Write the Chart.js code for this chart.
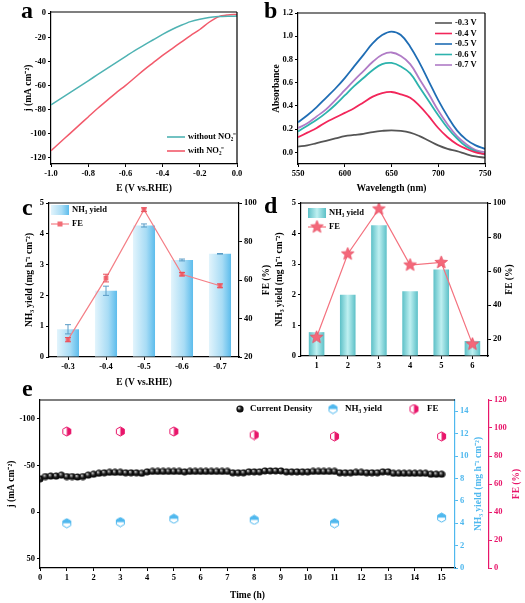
<!DOCTYPE html>
<html>
<head>
<meta charset="utf-8">
<script src="https://cdn.jsdelivr.net/npm/chart.js@4.4.0/dist/chart.umd.min.js"></script>
<style>
  body { margin: 0; background: #fff; width: 525px; height: 603px; position: relative; overflow: hidden; }
  canvas { position: absolute; }
  .tag { position: absolute; font: bold 24px "Liberation Serif", "Times New Roman", serif; line-height: 24px; }
</style>
</head>
<body>
<canvas id="ca" width="262" height="200" style="left:0;top:0"></canvas>
<canvas id="cb" width="263" height="200" style="left:262px;top:0"></canvas>
<canvas id="cc" width="280" height="200" style="left:0;top:192px"></canvas>
<canvas id="cd" width="263" height="200" style="left:262px;top:192px"></canvas>
<canvas id="ce" width="525" height="211" style="left:0;top:392px"></canvas>
<div class="tag" style="left:21px;top:-2px">a</div>
<div class="tag" style="left:264px;top:-2px">b</div>
<div class="tag" style="left:22px;top:195px">c</div>
<div class="tag" style="left:264px;top:193px">d</div>
<div class="tag" style="left:22px;top:376px">e</div>
<script>
// ---- panel a: LSV curves
const aE = [-1.0, -0.95, -0.9, -0.85, -0.8, -0.75, -0.7, -0.65, -0.6, -0.55, -0.5,
            -0.45, -0.4, -0.35, -0.3, -0.25, -0.2, -0.15, -0.1, -0.05, 0];
const aWithout = [-76, -71, -66, -61, -56, -51, -46, -41, -36, -31, -26.5,
                  -22, -17.5, -13.5, -10, -7, -5, -3.5, -2.8, -2.5, -2.4];
const aWith = [-114, -107, -100, -93, -86, -79, -72.5, -66, -60, -53.5, -47,
               -41, -35, -29.5, -24, -18.5, -13.5, -7.5, -3, -1.5, -1];
const aTicksX = [-1.0, -0.8, -0.6, -0.4, -0.2, 0.0];
const aTicksY = [-120, -100, -80, -60, -40, -20, 0];

// ---- panel b: UV-vis spectra
const bWave = [550, 560, 570, 580, 590, 600, 610, 620, 630, 640, 650,
               660, 670, 680, 690, 700, 710, 720, 730, 740, 750];
const bLabels = ['-0.3 V', '-0.4 V', '-0.5 V', '-0.6 V', '-0.7 V'];
const bM03 = [.05, .06, .08, .10, .12, .14, .15, .16, .175, .185, .19, .185, .17, .14, .10, .06, .03, .01, -.015, -.035, -.045];
const bM04 = [.13, .17, .21, .26, .30, .34, .38, .43, .48, .51, .52, .50, .47, .40, .31, .21, .13, .07, .03, 0, -.015];
const bM05 = [.26, .32, .39, .47, .55, .64, .74, .84, .94, 1.01, 1.04, 1.01, .91, .77, .61, .45, .31, .19, .11, .06, .03];
const bM06 = [.18, .23, .28, .34, .41, .49, .57, .64, .71, .76, .77, .74, .68, .56, .44, .32, .21, .12, .05, .01, -.02];
const bM07 = [.21, .25, .31, .37, .45, .535, .62, .70, .78, .84, .86, .83, .76, .63, .50, .36, .24, .14, .07, .02, 0];
const bTicksX = [550, 600, 650, 700, 750];
const bTicksY = [0.0, 0.2, 0.4, 0.6, 0.8, 1.0, 1.2];

// ---- panel c: yield and FE vs potential
const cCats = ['-0.3', '-0.4', '-0.5', '-0.6', '-0.7'];
const cYield = [0.9, 2.15, 4.27, 3.15, 3.35];
const cYieldErr = [0.15, 0.15, 0.05, 0.03, 0.01];
const cFE = [29, 61, 96.5, 63, 57];
const cFEErr = [1.1, 2, 1, 0.9, 1];

// ---- panel d: cycling test
const dCats = ['1', '2', '3', '4', '5', '6'];
const dYield = [0.78, 2.0, 4.27, 2.12, 2.83, 0.49];
const dFE = [21, 70, 96.5, 63.5, 65, 17];

const yieldTicks = [0, 1, 2, 3, 4, 5];
const feTicks = [20, 40, 60, 80, 100];

// ---- panel e: long-term stability
const eTime = [0, 0.2, 0.4, 0.6, 0.8, 1.0, 1.2, 1.4, 1.6, 1.8,
               2.0, 2.2, 2.4, 2.6, 2.8, 3.0, 3.2, 3.4, 3.6, 3.8,
               4.0, 4.2, 4.4, 4.6, 4.8, 5.0, 5.2, 5.4, 5.6, 5.8,
               6.0, 6.2, 6.4, 6.6, 6.8, 7.0, 7.2, 7.4, 7.6, 7.8,
               8.0, 8.2, 8.4, 8.6, 8.8, 9.0, 9.2, 9.4, 9.6, 9.8,
               10.0, 10.2, 10.4, 10.6, 10.8, 11.0, 11.2, 11.4, 11.6, 11.8,
               12.0, 12.2, 12.4, 12.6, 12.8, 13.0, 13.2, 13.4, 13.6, 13.8,
               14.0, 14.2, 14.4, 14.6, 14.8, 15.0];
const eCurrent = [-35.5, -38, -38.5, -38.5, -39.5, -38, -38, -37.5, -38, -39.5,
                  -40.5, -41.5, -42, -42.5, -42.5, -42.5, -42, -42, -42, -41.5,
                  -43, -43.5, -43.5, -43.5, -43.5, -43.5, -43.5, -43, -43.5, -43.5,
                  -43.5, -43.5, -43.5, -43.5, -43.5, -43.5, -42, -42, -42, -43,
                  -43, -43, -44, -44, -44, -44, -43, -43, -43, -43,
                  -43, -43.5, -43.5, -43.5, -43.5, -43.5, -42, -42, -42, -42.5,
                  -42.5, -42, -42, -42, -43, -43, -41.5, -41.5, -41.5, -41.5,
                  -41.5, -41.5, -41.5, -40.5, -40.5, -40.5];
const eSampleT = [1, 3, 5, 8, 11, 15];
const eYield = [4.0, 4.1, 4.4, 4.3, 4.0, 4.5];
const eFE = [97.5, 97.5, 97.5, 95, 94, 94];
const eTicksX = [0, 1, 2, 3, 4, 5, 6, 7, 8, 9, 10, 11, 12, 13, 14, 15];
const eTicksJ = [-100, -50, 0, 50];
const eTicksYield = [0, 2, 4, 6, 8, 10, 12, 14];
const eTicksFE = [0, 20, 40, 60, 80, 100, 120];

const SERIF = '"Liberation Serif", "Times New Roman", serif';
const TEAL = '#4fb3b3', RED = '#f25a6b';
const bColors = ['#555555', '#f2265a', '#1f6db4', '#2db3ad', '#b07bc6'];
const LBLUE = '#4fb8ee', PINK = '#e8156a';

Chart.defaults.font.family = SERIF;
Chart.defaults.font.weight = 'bold';
Chart.defaults.font.size = 8.5;
Chart.defaults.color = '#000';
Chart.defaults.animation = false;
Chart.defaults.plugins.legend.display = false;
Chart.defaults.plugins.tooltip.enabled = false;

// axis with outward ticks and a fixed thickness
function axis(o) {
  const col = o.color || '#000';
  const ax = {
    type: o.type || 'linear',
    position: o.position,
    reverse: !!o.reverse,
    weight: o.weight || 0,
    border: { color: col, width: 1.2 },
    grid: { drawOnChartArea: false, drawTicks: true, tickLength: 3, color: col, lineWidth: 1, offset: false },
    ticks: { color: col, padding: 2, maxRotation: 0, autoSkip: false },
    title: { display: false },
    afterFit: s => { if (s.isHorizontal()) s.height = o.size; else s.width = o.size; }
  };
  if (o.min !== undefined) ax.min = o.min;
  if (o.max !== undefined) ax.max = o.max;
  if (o.fmt) ax.ticks.callback = o.fmt;
  if (o.ticks) ax.afterBuildTicks = s => { s.ticks = o.ticks.map(v => ({ value: v })); };
  if (o.title) ax.title = { display: true, text: o.title, color: col, font: { size: 9.5 }, padding: o.tpad };
  return ax;
}

// top / right frame lines
function frame(top, right) {
  return {
    id: 'frame',
    afterDraw(chart) {
      const { ctx, chartArea: c } = chart;
      ctx.save();
      ctx.strokeStyle = '#000';
      ctx.lineWidth = 1.2;
      ctx.beginPath();
      if (top) { ctx.moveTo(c.left, c.top); ctx.lineTo(c.right, c.top); }
      if (right) { ctx.moveTo(c.right, c.top); ctx.lineTo(c.right, c.bottom); }
      ctx.stroke();
      ctx.restore();
    }
  };
}

// error bars drawn right after their dataset
function errorBars(sets) {
  return {
    id: 'errorBars',
    afterDatasetDraw(chart, args) {
      sets.filter(s => s.dataset === args.index).forEach(set => {
        const ctx = chart.ctx;
        const ds = chart.data.datasets[set.dataset];
        const ys = chart.scales[ds.yAxisID];
        ctx.save();
        ctx.strokeStyle = set.color;
        ctx.lineWidth = 1;
        chart.getDatasetMeta(set.dataset).data.forEach((el, i) => {
          const y1 = ys.getPixelForValue(ds.data[i] + set.err[i]);
          const y2 = ys.getPixelForValue(ds.data[i] - set.err[i]);
          ctx.beginPath();
          ctx.moveTo(el.x, y1); ctx.lineTo(el.x, y2);
          ctx.moveTo(el.x - set.cap, y1); ctx.lineTo(el.x + set.cap, y1);
          ctx.moveTo(el.x - set.cap, y2); ctx.lineTo(el.x + set.cap, y2);
          ctx.stroke();
        });
        ctx.restore();
      });
    }
  };
}

// legend drawn inside the plot
function keyBox(items, size) {
  return {
    id: 'keyBox',
    afterDraw(chart) {
      const ctx = chart.ctx;
      items.forEach(it => {
        const len = it.len || 18;
        ctx.save();
        if (it.grad) {
          const g = ctx.createLinearGradient(it.x, 0, it.x + len, 0);
          it.grad.forEach(s => g.addColorStop(s[0], s[1]));
          ctx.fillStyle = g;
          ctx.fillRect(it.x, it.y - 5, len, 10);
        }
        if (it.line) {
          ctx.strokeStyle = it.line;
          ctx.lineWidth = it.lw || 1.6;
          ctx.beginPath(); ctx.moveTo(it.x, it.y); ctx.lineTo(it.x + len, it.y); ctx.stroke();
        }
        if (it.sq) {
          ctx.fillStyle = it.sq;
          ctx.fillRect(it.x + len / 2 - 2.5, it.y - 2.5, 5, 5);
        }
        if (it.img) ctx.drawImage(it.img, it.x + len / 2 - it.img.width / 2, it.y - it.img.height / 2);
        ctx.fillStyle = '#000';
        ctx.font = 'bold ' + (size || 8.5) + 'px ' + SERIF;
        ctx.textBaseline = 'middle';
        ctx.fillText(it.text, it.tx || it.x + len + 3, it.y);
        ctx.restore();
      });
    }
  };
}

// right-hand axis titles, reading bottom to top
function sideTitles(items) {
  return {
    id: 'sideTitles',
    afterDraw(chart) {
      const ctx = chart.ctx, c = chart.chartArea;
      items.forEach(t => {
        ctx.save();
        ctx.translate(t.x, (c.top + c.bottom) / 2);
        ctx.rotate(-Math.PI / 2);
        ctx.textAlign = 'center';
        ctx.textBaseline = 'middle';
        ctx.fillStyle = t.color || '#000';
        ctx.font = 'bold 9.5px ' + SERIF;
        ctx.fillText(t.text, 0, 0);
        ctx.restore();
      });
    }
  };
}

// gradient across each bar
function barGradient(stops, frac) {
  return c => {
    const chart = c.chart;
    if (!chart.chartArea || c.dataIndex === undefined || !chart.scales.x) return stops[1][1];
    const x = chart.scales.x;
    const cx = x.getPixelForValue(c.dataIndex);
    const half = x.width / chart.data.labels.length * frac / 2;
    const g = chart.ctx.createLinearGradient(cx - half, 0, cx + half, 0);
    stops.forEach(s => g.addColorStop(s[0], s[1]));
    return g;
  };
}

// marker images
function mark(size, draw) {
  const c = document.createElement('canvas');
  c.width = c.height = size;
  draw(c.getContext('2d'), size / 2);
  return c;
}
function hexPath(g, c, r) {
  g.beginPath();
  for (let k = 0; k < 6; k++) {
    const a = Math.PI / 2 + k * Math.PI / 3;
    g.lineTo(c + r * Math.cos(a), c - r * Math.sin(a));
  }
  g.closePath();
}
const sphere = mark(8, (g, c) => {
  const gr = g.createRadialGradient(c - 1.2, c - 1.2, 0.3, c, c, 3.6);
  gr.addColorStop(0, '#d8d8d8');
  gr.addColorStop(0.45, '#222');
  gr.addColorStop(1, '#000');
  g.fillStyle = gr;
  g.beginPath(); g.arc(c, c, 3.6, 0, Math.PI * 2); g.fill();
});
const hexYield = mark(11, (g, c) => {
  hexPath(g, c, 4.6); g.fillStyle = '#fff'; g.fill();
  g.save(); hexPath(g, c, 4.6); g.clip(); g.fillStyle = LBLUE; g.fillRect(0, 0, 11, c); g.restore();
  hexPath(g, c, 4.6); g.strokeStyle = LBLUE; g.lineWidth = 1; g.stroke();
});
const hexFE = mark(11, (g, c) => {
  hexPath(g, c, 4.6); g.fillStyle = '#fff'; g.fill();
  g.save(); hexPath(g, c, 4.6); g.clip(); g.fillStyle = PINK; g.fillRect(c, 0, 11, 11); g.restore();
  hexPath(g, c, 4.6); g.strokeStyle = PINK; g.lineWidth = 1; g.stroke();
});
const star = mark(15, (g, c) => {
  g.beginPath();
  for (let k = 0; k < 10; k++) {
    const r = k % 2 ? 2.9 : 6.6, a = -Math.PI / 2 + k * Math.PI / 5;
    g.lineTo(c + r * Math.cos(a), c + r * Math.sin(a));
  }
  g.closePath();
  g.fillStyle = '#f4687a'; g.fill();
  g.strokeStyle = '#e84c62'; g.lineWidth = 0.8; g.stroke();
});

const cStops = [[0, '#e2f4fc'], [0.6, '#a8dcf5'], [1, '#5cbcec']];
const dStops = [[0, '#5cc0c7'], [0.5, '#bff0f1'], [1, '#5cc0c7']];

// Panel a
new Chart(document.getElementById('ca'), {
  type: 'line',
  data: {
    datasets: [
      { label: 'without NO₂⁻', data: aE.map((x, i) => ({ x, y: aWithout[i] })), borderColor: TEAL, borderWidth: 1.5, pointRadius: 0, tension: 0.3 },
      { label: 'with NO₂⁻', data: aE.map((x, i) => ({ x, y: aWith[i] })), borderColor: RED, borderWidth: 1.5, pointRadius: 0, tension: 0.3 }
    ]
  },
  options: {
    responsive: false, devicePixelRatio: 1,
    layout: { padding: { top: 12, right: 25, left: 0, bottom: 0 } },
    scales: {
      x: axis({ position: 'bottom', min: -1, max: 0, ticks: aTicksX, fmt: v => v.toFixed(1), size: 36, title: 'E (V vs.RHE)', tpad: { top: 0, bottom: 6 } }),
      y: axis({ position: 'left', min: -125, max: 1, ticks: aTicksY, size: 51, title: 'j (mA cm⁻²)', tpad: { top: 23, bottom: 0 } })
    }
  },
  plugins: [frame(true, true), keyBox([
    { x: 167, y: 137, text: 'without NO₂⁻', line: TEAL },
    { x: 167, y: 151, text: 'with NO₂⁻', line: RED }
  ])]
});

// Panel b
const bSeries = [bM03, bM04, bM05, bM06, bM07];
new Chart(document.getElementById('cb'), {
  type: 'line',
  data: {
    datasets: bSeries.map((s, k) => ({
      label: bLabels[k], data: bWave.map((x, i) => ({ x, y: s[i] })),
      borderColor: bColors[k], borderWidth: 1.8, pointRadius: 0, tension: 0.4
    }))
  },
  options: {
    responsive: false, devicePixelRatio: 1,
    layout: { padding: { top: 13, right: 40, left: 0, bottom: 0 } },
    scales: {
      x: axis({ position: 'bottom', min: 550, max: 750, ticks: bTicksX, size: 36, title: 'Wavelength (nm)', tpad: { top: 0, bottom: 6 } }),
      y: axis({ position: 'left', min: -0.1, max: 1.2, ticks: bTicksY, fmt: v => v.toFixed(1), size: 36, title: 'Absorbance', tpad: { top: 9, bottom: 0 } })
    }
  },
  plugins: [frame(true, true), keyBox(bLabels.map((t, k) => ({ x: 173, y: 23 + k * 10.5, text: t, line: bColors[k], len: 17 })))]
});

// Panel c
new Chart(document.getElementById('cc'), {
  type: 'bar',
  data: {
    labels: cCats,
    datasets: [
      { label: 'NH₃ yield', data: cYield, yAxisID: 'y', backgroundColor: barGradient(cStops, 0.58), barPercentage: 0.58, categoryPercentage: 1, order: 2 },
      { type: 'line', label: 'FE', data: cFE, yAxisID: 'y2', borderColor: '#f47f86', borderWidth: 1.2,
        pointStyle: 'rect', pointRadius: 2.5, pointBackgroundColor: '#f26d76', pointBorderColor: '#f26d76', order: 1 }
    ]
  },
  options: {
    responsive: false, devicePixelRatio: 1,
    layout: { padding: { top: 11, right: 0, left: 0, bottom: 0 } },
    scales: {
      x: axis({ type: 'category', position: 'bottom', size: 35, title: 'E (V vs.RHE)', tpad: { top: 0, bottom: 4 } }),
      y: axis({ position: 'left', min: 0, max: 5, ticks: yieldTicks, size: 49, title: 'NH₃ yield (mg h⁻¹ cm⁻²)', tpad: { top: 24, bottom: 0 } }),
      y2: axis({ position: 'right', min: 20, max: 100, ticks: feTicks, size: 41 })
    }
  },
  plugins: [frame(true, false), errorBars([
    { dataset: 0, err: cYieldErr, color: '#5a9cc6', cap: 3 },
    { dataset: 1, err: cFEErr, color: '#e8505c', cap: 3 }
  ]), sideTitles([{ x: 267, text: 'FE (%)' }]), keyBox([
    { x: 51, y: 18, text: 'NH₃ yield', grad: cStops },
    { x: 51, y: 32, text: 'FE', line: '#f47f86', lw: 1.2, sq: '#f26d76' }
  ])]
});

// Panel d
new Chart(document.getElementById('cd'), {
  type: 'bar',
  data: {
    labels: dCats,
    datasets: [
      { label: 'NH₃ yield', data: dYield, yAxisID: 'y', backgroundColor: barGradient(dStops, 0.5), barPercentage: 0.5, categoryPercentage: 1, order: 2 },
      { type: 'line', label: 'FE', data: dFE, yAxisID: 'y2', borderColor: '#f4727f', borderWidth: 1.2,
        pointStyle: star, pointRadius: 6, order: 1 }
    ]
  },
  options: {
    responsive: false, devicePixelRatio: 1,
    layout: { padding: { top: 11, right: 0, left: 0, bottom: 0 } },
    scales: {
      x: axis({ type: 'category', position: 'bottom', size: 36 }),
      y: axis({ position: 'left', min: 0, max: 5, ticks: yieldTicks, size: 39, title: 'NH₃ yield (mg h⁻¹ cm⁻²)', tpad: { top: 12, bottom: 0 } }),
      y2: axis({ position: 'right', min: 10, max: 100, ticks: feTicks, size: 37 })
    }
  },
  plugins: [frame(true, false), sideTitles([{ x: 248, text: 'FE (%)' }]), keyBox([
    { x: 46, y: 21, text: 'NH₃ yield', grad: dStops },
    { x: 46, y: 35, text: 'FE', line: '#f4727f', lw: 1.2, img: star }
  ])]
});

// Panel e
new Chart(document.getElementById('ce'), {
  type: 'scatter',
  data: {
    datasets: [
      { label: 'Current Density', data: eTime.map((x, i) => ({ x, y: eCurrent[i] })), yAxisID: 'y', pointStyle: sphere, pointRadius: 4 },
      { label: 'NH₃ yield', data: eSampleT.map((x, i) => ({ x, y: eYield[i] })), yAxisID: 'y2', pointStyle: hexYield, pointRadius: 5 },
      { label: 'FE', data: eSampleT.map((x, i) => ({ x, y: eFE[i] })), yAxisID: 'y3', pointStyle: hexFE, pointRadius: 5 }
    ]
  },
  options: {
    responsive: false, devicePixelRatio: 1,
    layout: { padding: { top: 8, right: 0, left: 0, bottom: 0 } },
    scales: {
      x: axis({ position: 'bottom', min: 0, max: 15.5, ticks: eTicksX, size: 35, title: 'Time (h)', tpad: { top: 0, bottom: 2 } }),
      y: axis({ position: 'left', min: -120, max: 60, reverse: true, ticks: eTicksJ, size: 40, title: 'j (mA cm⁻²)', tpad: { top: 6, bottom: 0 } }),
      y2: axis({ position: 'right', min: 0, max: 15, ticks: eTicksYield, size: 34, color: LBLUE, weight: 0 }),
      y3: axis({ position: 'right', min: 0, max: 120, ticks: eTicksFE, size: 36, color: PINK, weight: 1 })
    }
  },
  plugins: [frame(true, false), sideTitles([
    { x: 479, text: 'NH₃ yield (mg h⁻¹ cm⁻²)', color: LBLUE },
    { x: 517, text: 'FE (%)', color: PINK }
  ]), keyBox([
    { x: 236, len: 8, y: 17, tx: 250, text: 'Current Density', img: sphere },
    { x: 328, len: 10, y: 17, tx: 345, text: 'NH₃ yield', img: hexYield },
    { x: 409, len: 10, y: 17, tx: 427, text: 'FE', img: hexFE }
  ], 9)]
});
</script>
</body>
</html>
